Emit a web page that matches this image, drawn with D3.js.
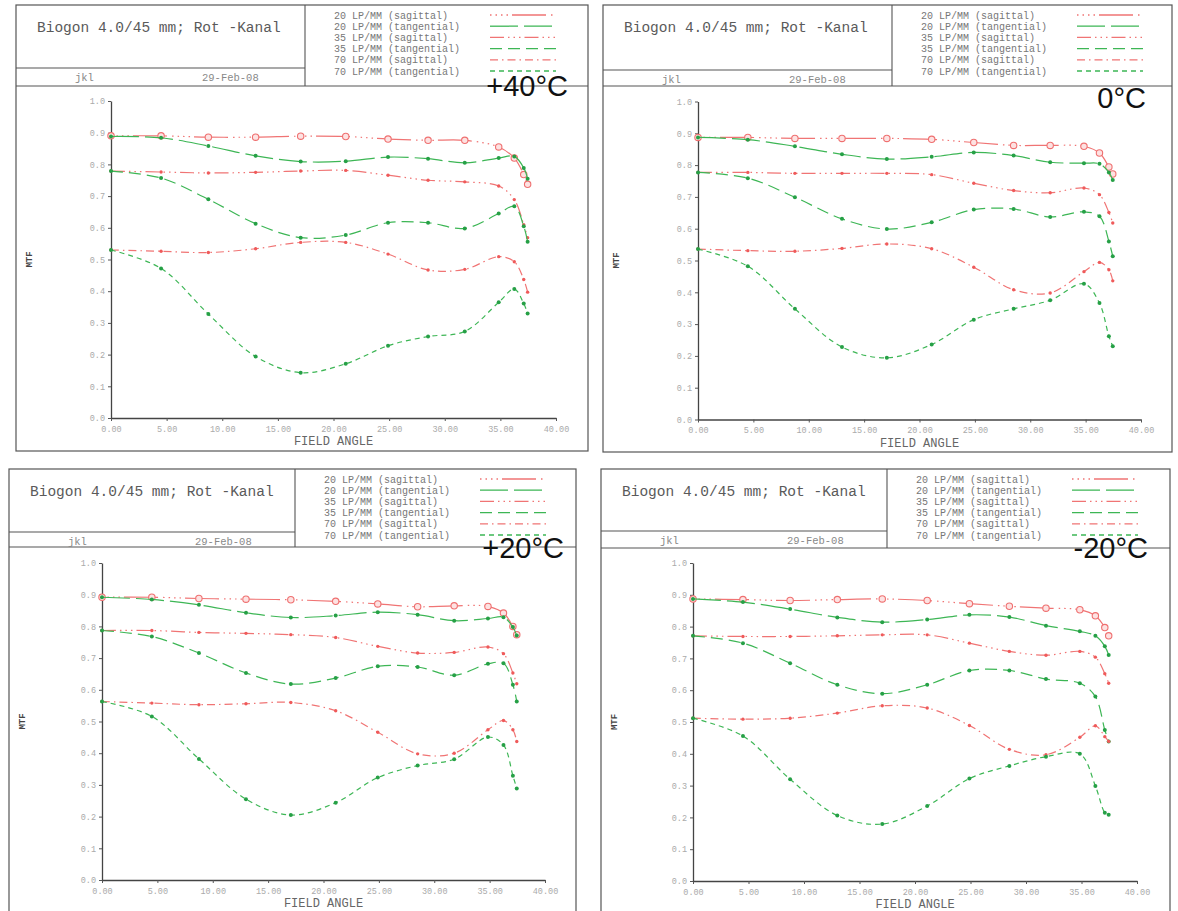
<!DOCTYPE html>
<html><head><meta charset="utf-8">
<script src="https://cdn.jsdelivr.net/npm/d3@7"></script>
<style>body{margin:0;background:#fff}svg{display:block}</style>
</head><body>
<svg id="c" width="1178" height="911"></svg>
<script>
// ---------- DATA ----------
const fieldAngles = [0, 4.5, 8.75, 13.0, 17.05, 21.1, 24.9, 28.5, 31.8, 34.85, 36.25, 37.1, 37.45];
const xTicks = [0, 5, 10, 15, 20, 25, 30, 35, 40];
const yTicks = [0, 0.1, 0.2, 0.3, 0.4, 0.5, 0.6, 0.7, 0.8, 0.9, 1.0];
const temperatures = ["+40°C", "0°C", "+20°C", "-20°C"];
const seriesLabels = ["20 LP/MM (sagittal)", "20 LP/MM (tangential)", "35 LP/MM (sagittal)",
                      "35 LP/MM (tangential)", "70 LP/MM (sagittal)", "70 LP/MM (tangential)"];
const chartTitle = "Biogon 4.0/45 mm; Rot -Kanal";
const author = "jkl";
const dateText = "29-Feb-08";

// +40°C
const s20_p40 = [0.890, 0.890, 0.886, 0.886, 0.889, 0.888, 0.880, 0.876, 0.876, 0.855, 0.820, 0.768, 0.737];
const t20_p40 = [0.888, 0.884, 0.858, 0.827, 0.809, 0.810, 0.823, 0.818, 0.805, 0.820, 0.825, 0.789, 0.755];
const s35_p40 = [0.779, 0.776, 0.773, 0.775, 0.779, 0.781, 0.766, 0.750, 0.745, 0.732, 0.689, 0.610, 0.569];
const t35_p40 = [0.779, 0.757, 0.690, 0.613, 0.569, 0.577, 0.616, 0.616, 0.598, 0.645, 0.668, 0.605, 0.556];
const s70_p40 = [0.530, 0.526, 0.522, 0.534, 0.554, 0.554, 0.517, 0.467, 0.469, 0.509, 0.493, 0.437, 0.397];
const t70_p40 = [0.530, 0.472, 0.328, 0.194, 0.143, 0.171, 0.228, 0.257, 0.273, 0.365, 0.407, 0.361, 0.330];
// 0°C
const s20_0 = [0.887, 0.887, 0.884, 0.884, 0.884, 0.881, 0.871, 0.862, 0.862, 0.859, 0.838, 0.794, 0.772];
const t20_0 = [0.887, 0.880, 0.859, 0.834, 0.819, 0.826, 0.840, 0.830, 0.809, 0.806, 0.804, 0.777, 0.753];
const s35_0 = [0.777, 0.777, 0.774, 0.774, 0.774, 0.770, 0.743, 0.720, 0.713, 0.728, 0.707, 0.651, 0.618];
const t35_0 = [0.777, 0.759, 0.699, 0.631, 0.599, 0.620, 0.660, 0.662, 0.637, 0.653, 0.639, 0.560, 0.513];
const s70_0 = [0.536, 0.531, 0.529, 0.538, 0.552, 0.537, 0.479, 0.408, 0.398, 0.465, 0.494, 0.471, 0.436];
const t70_0 = [0.536, 0.482, 0.348, 0.228, 0.194, 0.236, 0.314, 0.348, 0.375, 0.427, 0.366, 0.262, 0.230];
// +20°C
const s20_p20 = [0.892, 0.892, 0.888, 0.886, 0.884, 0.879, 0.871, 0.862, 0.865, 0.863, 0.842, 0.800, 0.774];
const t20_p20 = [0.892, 0.885, 0.868, 0.843, 0.828, 0.834, 0.845, 0.837, 0.818, 0.825, 0.829, 0.798, 0.771];
const s35_p20 = [0.787, 0.787, 0.781, 0.778, 0.774, 0.765, 0.737, 0.716, 0.718, 0.735, 0.714, 0.653, 0.619];
const t35_p20 = [0.787, 0.768, 0.716, 0.653, 0.618, 0.637, 0.674, 0.672, 0.646, 0.682, 0.684, 0.616, 0.563];
const s70_p20 = [0.563, 0.558, 0.553, 0.556, 0.560, 0.534, 0.466, 0.398, 0.400, 0.474, 0.503, 0.474, 0.437];
const t70_p20 = [0.563, 0.516, 0.382, 0.255, 0.205, 0.244, 0.323, 0.361, 0.381, 0.451, 0.426, 0.329, 0.289];
// -20°C
const s20_m20 = [0.887, 0.885, 0.882, 0.885, 0.887, 0.882, 0.872, 0.864, 0.858, 0.853, 0.834, 0.797, 0.771];
const t20_m20 = [0.887, 0.877, 0.855, 0.829, 0.814, 0.822, 0.837, 0.830, 0.803, 0.785, 0.771, 0.738, 0.711];
const s35_m20 = [0.771, 0.769, 0.769, 0.771, 0.774, 0.774, 0.748, 0.722, 0.710, 0.722, 0.704, 0.652, 0.622];
const t35_m20 = [0.771, 0.748, 0.685, 0.617, 0.589, 0.617, 0.662, 0.662, 0.635, 0.622, 0.580, 0.475, 0.439];
const s70_m20 = [0.512, 0.509, 0.512, 0.528, 0.551, 0.544, 0.489, 0.414, 0.397, 0.452, 0.488, 0.454, 0.439];
const t70_m20 = [0.512, 0.456, 0.320, 0.206, 0.179, 0.236, 0.322, 0.362, 0.391, 0.400, 0.299, 0.215, 0.208];

const panelSeries = [
  [s20_p40, t20_p40, s35_p40, t35_p40, s70_p40, t70_p40],
  [s20_0, t20_0, s35_0, t35_0, s70_0, t70_0],
  [s20_p20, t20_p20, s35_p20, t35_p20, s70_p20, t70_p20],
  [s20_m20, t20_m20, s35_m20, t35_m20, s70_m20, t70_m20]
];

// ---------- LAYOUT / STYLE ----------
const RED = "#f07474", GREEN = "#3db655", GREEN_DOT = "#26a046";
const styles = [
  {color: RED,   dash: "1.5,4,1.5,4,1.5,4,1.5,4,34,5", marker: "circle"},
  {color: GREEN, dash: "28,6", marker: "dot"},
  {color: RED,   dash: "14,4,1.5,4,1.5,4,1.5,4", marker: "rdot"},
  {color: GREEN, dash: "12,6", marker: "dot"},
  {color: RED,   dash: "8,4,1.5,4", marker: "rdot"},
  {color: GREEN, dash: "5,4", marker: "dot"}
];
const layouts = [
  {box:[16,5,588,451], div:305, inner:68, head:86, px:[111,556], py:[418,101], temp:[568,96]},
  {box:[603,5,1172,452], div:892, inner:70, head:86, px:[698,1141], py:[419.5,101.5], temp:[1146,108]},
  {box:[9,469,576,913], div:295, inner:532, head:547, px:[102,545], py:[880,563], temp:[564,558]},
  {box:[601,469,1170,913], div:887, inner:531, head:548, px:[693,1137], py:[881,563], temp:[1148,558]}
];
const MONO = "'Liberation Mono','DejaVu Sans Mono',monospace";

const svg = d3.select("#c");

layouts.forEach((L, pi) => {
  const [x0, y0, x1, y1] = L.box;
  const g = svg.append("g");
  const ln = (a,b,c,d,w=1.1,col="#555") => g.append("line").attr("x1",a).attr("y1",b).attr("x2",c).attr("y2",d)
      .attr("stroke",col).attr("stroke-width",w);
  // frames
  g.append("rect").attr("x",x0).attr("y",y0).attr("width",x1-x0).attr("height",y1-y0)
    .attr("fill","none").attr("stroke","#555").attr("stroke-width",1.2);
  ln(L.div, y0, L.div, L.head);
  ln(x0, L.inner, L.div, L.inner);
  ln(x0, L.head, x1, L.head);

  // header text
  g.append("text").attr("x", x0 + 21).attr("y", y0 + 27).text(chartTitle)
    .attr("font-family", MONO).attr("font-size", 14.5).attr("fill", "#5a5a5a");
  g.append("text").attr("x", x0 + 59).attr("y", L.inner + 12.5).text(author)
    .attr("font-family", MONO).attr("font-size", 10.5).attr("fill", "#888");
  g.append("text").attr("x", x0 + 186).attr("y", L.inner + 12.5).text(dateText)
    .attr("font-family", MONO).attr("font-size", 10.5).attr("fill", "#888");

  // legend
  seriesLabels.forEach((lab, i) => {
    const ry = y0 + 10 + i * 11.2;
    g.append("text").attr("x", L.div + 29).attr("y", ry + 3.5).text(lab)
      .attr("font-family", MONO).attr("font-size", 10).attr("fill", "#777");
    g.append("line").attr("x1", L.div + 185).attr("x2", L.div + 251).attr("y1", ry).attr("y2", ry)
      .attr("stroke", styles[i].color).attr("stroke-width", 1.3).attr("stroke-dasharray", styles[i].dash);
  });

  // scales
  const x = d3.scaleLinear().domain([0, 40]).range(L.px);
  const y = d3.scaleLinear().domain([0, 1]).range(L.py);

  const xAxis = g.append("g").attr("transform", `translate(0,${L.py[0]})`)
    .call(d3.axisBottom(x).tickValues(xTicks).tickFormat(d3.format(".2f")).tickSize(3).tickSizeOuter(0));
  const yAxis = g.append("g").attr("transform", `translate(${L.px[0]},0)`)
    .call(d3.axisLeft(y).tickValues(yTicks).tickFormat(d3.format(".1f")).tickSize(3).tickSizeOuter(0));
  [xAxis, yAxis].forEach(a => {
    a.select(".domain").attr("stroke", "#444").attr("stroke-width", 1.3);
    a.selectAll(".tick line").attr("stroke", "#555");
    a.selectAll(".tick text").attr("font-family", MONO).attr("font-size", 8.5).attr("fill", "#aaa");
  });
  xAxis.selectAll(".tick text").attr("dy", "0.9em");

  g.append("text").attr("x", (L.px[0] + L.px[1]) / 2).attr("y", L.py[0] + 27).attr("text-anchor", "middle")
    .text("FIELD ANGLE").attr("font-family", MONO).attr("font-size", 12).attr("fill", "#666");
  g.append("text").attr("transform", `translate(${x0 + 16},${(L.py[0] + L.py[1]) / 2}) rotate(-90)`)
    .attr("text-anchor", "middle").text("MTF").attr("font-family", MONO).attr("font-weight", "bold")
    .attr("font-size", 9).attr("fill", "#444");

  // curves
  const line = d3.line().x(d => x(d[0])).y(d => y(d[1])).curve(d3.curveCatmullRom.alpha(0.5));
  panelSeries[pi].forEach((vals, si) => {
    const pts = fieldAngles.map((a, k) => [a, vals[k]]);
    const st = styles[si];
    g.append("path").datum(pts).attr("d", line).attr("fill", "none")
      .attr("stroke", st.color).attr("stroke-width", 1.2).attr("stroke-dasharray", st.dash);
    const m = g.append("g").selectAll("circle").data(pts).join("circle")
      .attr("cx", d => x(d[0])).attr("cy", d => y(d[1]));
    if (st.marker === "circle") m.attr("r", 3.2).attr("fill", "#fde2e2").attr("stroke", "#ef7070").attr("stroke-width", 1.1);
    else if (st.marker === "dot") m.attr("r", 2).attr("fill", GREEN_DOT);
    else m.attr("r", 1.7).attr("fill", "#ef5a5a");
  });

  // temperature label
  g.append("text").attr("x", L.temp[0]).attr("y", L.temp[1]).attr("text-anchor", "end")
    .text(temperatures[pi]).attr("font-family", "'Liberation Sans',Arial,sans-serif")
    .attr("font-size", 29).attr("fill", "#111");
});
</script>
</body></html>
